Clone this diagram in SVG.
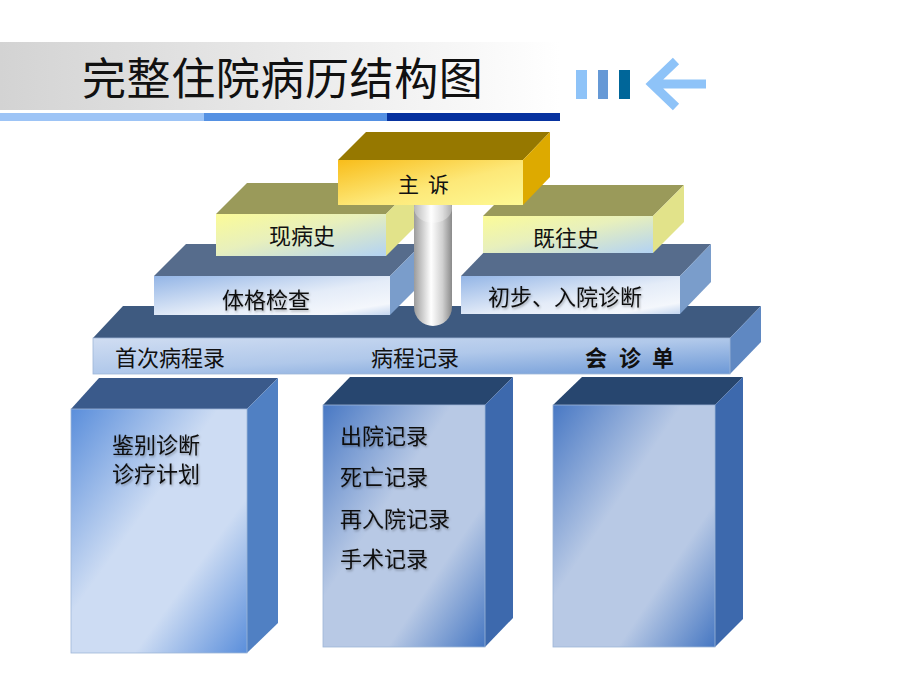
<svg xmlns="http://www.w3.org/2000/svg" width="920" height="690" viewBox="0 0 920 690">
<defs>
<linearGradient id="band" x1="0" y1="0" x2="1" y2="0"><stop offset="0" stop-color="#d3d3d3"/><stop offset="0.55" stop-color="#ebebeb"/><stop offset="1" stop-color="#ffffff"/></linearGradient>
<linearGradient id="gold" x1="0" y1="0" x2="1" y2="1"><stop offset="0" stop-color="#f8bd1a"/><stop offset="0.55" stop-color="#fde878"/><stop offset="1" stop-color="#fdf994"/></linearGradient>
<linearGradient id="yb" x1="0" y1="0" x2="1" y2="1"><stop offset="0" stop-color="#fbfb98"/><stop offset="0.45" stop-color="#e8f0bc"/><stop offset="1" stop-color="#b2d2f4"/></linearGradient>
<linearGradient id="mid" x1="0" y1="0" x2="1" y2="1"><stop offset="0" stop-color="#93b5e6"/><stop offset="0.55" stop-color="#e4ecf8"/><stop offset="0.85" stop-color="#f4f7fc"/><stop offset="1" stop-color="#c3d5ef"/></linearGradient>
<linearGradient id="base" x1="0" y1="0" x2="1" y2="1"><stop offset="0" stop-color="#d0ddf2"/><stop offset="0.5" stop-color="#b0c8ea"/><stop offset="1" stop-color="#6c98d6"/></linearGradient>
<linearGradient id="b1" x1="0" y1="0" x2="1" y2="1"><stop offset="0" stop-color="#5a8edb"/><stop offset="0.42" stop-color="#cddcf3"/><stop offset="0.68" stop-color="#cddcf3"/><stop offset="1" stop-color="#5a8edb"/></linearGradient>
<linearGradient id="b2" x1="0" y1="0" x2="1" y2="1"><stop offset="0" stop-color="#4878c4"/><stop offset="0.4" stop-color="#b8c9e5"/><stop offset="0.7" stop-color="#b8c9e5"/><stop offset="1" stop-color="#4677c2"/></linearGradient>
<linearGradient id="cyl" x1="0" y1="0" x2="1" y2="0"><stop offset="0" stop-color="#9c9c9c"/><stop offset="0.45" stop-color="#ffffff"/><stop offset="0.75" stop-color="#d0d0d0"/><stop offset="1" stop-color="#8a8a8a"/></linearGradient>
<filter id="sh" x="-10%" y="-10%" width="130%" height="140%"><feDropShadow dx="1" dy="1.5" stdDeviation="1" flood-color="#000" flood-opacity="0.3"/></filter>
</defs>
<style>
.t{font-family:"Noto Sans CJK SC","Noto Sans CJK JP",sans-serif;font-size:22px;fill:#111;dominant-baseline:central}
.edge{stroke:#9fb6d8;stroke-width:0.8}
</style>

<g id="header">
<rect x="0" y="42" width="560" height="68" fill="url(#band)"/>
<rect x="0" y="113" width="204" height="8" fill="#9dc4f6"/>
<rect x="204" y="113" width="183" height="8" fill="#5591e3"/>
<rect x="387" y="113" width="173" height="8" fill="#0833a0"/>
<text x="82" y="76" style="font-family:'Noto Sans CJK SC',sans-serif;font-size:44px;letter-spacing:0.6px;dominant-baseline:central" fill="#111">完整住院病历结构图</text>
</g>

<g id="icon">
<rect x="576" y="70" width="11" height="29" fill="#8ec3f8"/>
<rect x="598" y="70" width="10" height="29" fill="#6699d6"/>
<rect x="619" y="70" width="11" height="29" fill="#006699"/>
<path d="M706,84 H652 M676,61 L652,84 L676,107" fill="none" stroke="#8ec3f8" stroke-width="9"/>
</g>

<g id="base-bar">
<polygon points="93,338 123,306 761,306 730,338" fill="#3e5a80"/>
<polygon points="730,338 761,306 761,342 730,374" fill="#5f88c2"/>
<rect x="93" y="338" width="637" height="36" fill="url(#base)" class="edge"/>
<text class="t" x="115" y="356">首次病程录</text>
<text class="t" x="371" y="356">病程记录</text>
<g font-weight="bold"><text class="t" x="585" y="356">会</text><text class="t" x="619" y="356">诊</text><text class="t" x="652" y="356">单</text></g>
</g>

<g id="tige">
<polygon points="154,276 186,244 422,244 390,276" fill="#566c8c"/>
<polygon points="390,276 422,244 422,283 390,315" fill="#7a9dcb"/>
<rect x="154" y="276" width="236" height="39" fill="url(#mid)"/>
<text class="t" x="222" y="298" filter="url(#sh)">体格检查</text>
</g>

<g id="chubu">
<polygon points="461,276 492,244 711,244 680,276" fill="#566c8c"/>
<polygon points="680,276 711,244 711,282 680,314" fill="#7a9dcb"/>
<rect x="461" y="276" width="219" height="38" fill="url(#mid)"/>
<text class="t" x="488" y="295" filter="url(#sh)">初步、入院诊断</text>
</g>

<g id="xianbingshi">
<polygon points="216,214 247,183 417,183 386,214" fill="#9a9a5a"/>
<polygon points="386,214 417,183 417,225 386,256" fill="#e2e38a"/>
<rect x="216" y="214" width="170" height="42" fill="url(#yb)"/>
<text class="t" x="269" y="234">现病史</text>
</g>

<g id="jiwangshi">
<polygon points="483,216 514,185 684,185 653,216" fill="#9a9a5a"/>
<polygon points="653,216 684,185 684,222 653,253" fill="#e2e38a"/>
<rect x="483" y="216" width="170" height="37" fill="url(#yb)"/>
<text class="t" x="533" y="236">既往史</text>
</g>

<g id="pillar">
<path d="M414,200 V307 A19,19 0 0 0 452,307 V200 Z" fill="url(#cyl)"/>
<ellipse cx="433" cy="208" rx="19" ry="15" fill="#ffffff" opacity="0.3"/>
</g>

<g id="zhusu">
<polygon points="338,160 366,132 550,132 523,160" fill="#967800"/>
<polygon points="523,160 550,132 550,177 523,205" fill="#ddaa00"/>
<rect x="338" y="160" width="185" height="45" fill="url(#gold)"/>
<text class="t" x="398" y="183" style="font-size:21px">主</text>
<text class="t" x="428" y="183" style="font-size:21px">诉</text>
</g>

<g id="box1">
<polygon points="71,409 99,378 278,378 247,409" fill="#3a5a8b"/>
<polygon points="247,409 278,378 278,623 247,653" fill="#5080c3"/>
<rect x="71" y="409" width="176" height="244" fill="url(#b1)" class="edge"/>
<text class="t" x="112" y="443" filter="url(#sh)">鉴别诊断</text>
<text class="t" x="112" y="472" filter="url(#sh)">诊疗计划</text>
</g>

<g id="box2">
<polygon points="323,405 350,377 513,377 485,405" fill="#27466f"/>
<polygon points="485,405 513,377 513,618 485,647" fill="#3d69ad"/>
<rect x="323" y="405" width="162" height="242" fill="url(#b2)" class="edge"/>
<text class="t" x="340" y="434" filter="url(#sh)">出院记录</text>
<text class="t" x="340" y="475" filter="url(#sh)">死亡记录</text>
<text class="t" x="340" y="517" filter="url(#sh)">再入院记录</text>
<text class="t" x="340" y="557" filter="url(#sh)">手术记录</text>
</g>

<g id="box3">
<polygon points="553,405 582,377 743,377 715,405" fill="#27466f"/>
<polygon points="715,405 743,377 743,619 715,647" fill="#3d69ad"/>
<rect x="553" y="405" width="162" height="242" fill="url(#b2)" class="edge"/>
</g>

<g id="connectors"/>
</svg>
